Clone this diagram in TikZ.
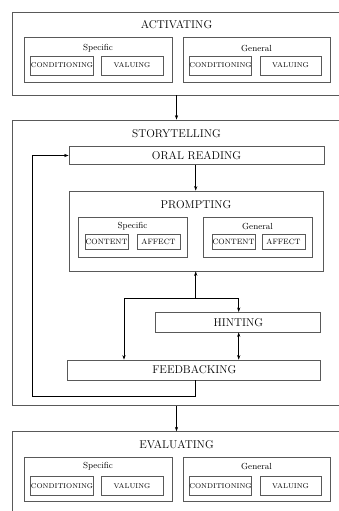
\documentclass[tikz,border=0pt]{standalone}
\usetikzlibrary{arrows.meta,fit}
\begin{document}
\begin{tikzpicture}[x=1pt,y=-1pt,>={Stealth[length=4.5pt,width=3.2pt]},
  outerbox/.style={draw=black!65,line width=0.8pt,inner sep=0pt},
  groupbox/.style={draw=black!65,line width=0.8pt,inner sep=0pt},
  itembox/.style={draw=black!65,line width=0.8pt,inner sep=0pt,font=\fontsize{7}{8}\selectfont},
  stepbox/.style={draw=black!65,line width=0.8pt,inner sep=0pt,font=\fontsize{11.3}{13}\selectfont},
  headtext/.style={font=\fontsize{11.3}{13}\selectfont},
  grouptext/.style={font=\fontsize{8.8}{10}\selectfont},
  link/.style={line width=0.6pt}]

  \useasboundingbox (0,0) rectangle (339,511);

  % activating
  \node[outerbox,fit={(12,12) (341,95)}] (act) {};
  \node[headtext] (acttitle) at (176.5,25) {ACTIVATING};
  \node[groupbox,fit={(24,37) (172,82)}] (actspec) {};
  \node[grouptext] (actspect) at (98,48) {Specific};
  \node[itembox,minimum width=62pt,minimum height=19pt] (actcon1) at (62,65.5) {CONDITIONING};
  \node[itembox,minimum width=62pt,minimum height=19pt] (actval1) at (132,65.5) {VALUING};
  \node[groupbox,fit={(183,37) (330,82)}] (actgen) {};
  \node[grouptext] (actgent) at (256.5,48) {General};
  \node[itembox,minimum width=61pt,minimum height=19pt] (actcon2) at (220.5,65.5) {CONDITIONING};
  \node[itembox,minimum width=61pt,minimum height=19pt] (actval2) at (290.5,65.5) {VALUING};

  % storytelling
  \node[outerbox,fit={(12,120) (341,405.7)}] (story) {};
  \node[headtext] (storytitle) at (176.5,134) {STORYTELLING};
  \node[stepbox,minimum width=255pt,minimum height=17.6pt] (oral) at (196.5,155.5) {ORAL READING};
  \node[groupbox,fit={(69,191) (323,271)}] (prompt) {};
  \node[headtext] (prompttitle) at (196,205) {PROMPTING};
  \node[groupbox,fit={(78,217.7) (187,257.7)}] (pspec) {};
  \node[grouptext] (pspect) at (132.5,226.7) {Specific};
  \node[itembox,font=\fontsize{7.7}{9}\selectfont,minimum width=43pt,minimum height=15pt] (pcon1) at (106.5,241.8) {CONTENT};
  \node[itembox,font=\fontsize{7.7}{9}\selectfont,minimum width=43pt,minimum height=15pt] (paff1) at (158.5,241.8) {AFFECT};
  \node[groupbox,fit={(203,217.7) (312,257.7)}] (pgen) {};
  \node[grouptext] (pgent) at (257.5,226.7) {General};
  \node[itembox,font=\fontsize{7.7}{9}\selectfont,minimum width=43pt,minimum height=15pt] (pcon2) at (233.5,241.8) {CONTENT};
  \node[itembox,font=\fontsize{7.7}{9}\selectfont,minimum width=43pt,minimum height=15pt] (paff2) at (283.5,241.8) {AFFECT};
  \node[stepbox,minimum width=165pt,minimum height=19.7pt] (hint) at (238.3,322.2) {HINTING};
  \node[stepbox,minimum width=253pt,minimum height=20pt] (feed) at (194.3,370) {FEEDBACKING};

  % evaluating
  \node[outerbox,fit={(12,431.7) (341,540)}] (eval) {};
  \node[headtext] (evaltitle) at (176.5,444.3) {EVALUATING};
  \node[groupbox,fit={(24,457.7) (172,501.7)}] (evspec) {};
  \node[grouptext] (evspect) at (98,466.7) {Specific};
  \node[itembox,minimum width=62pt,minimum height=18.3pt] (evcon1) at (62,485.8) {CONDITIONING};
  \node[itembox,minimum width=62pt,minimum height=18.3pt] (evval1) at (132,485.8) {VALUING};
  \node[groupbox,fit={(183,457.7) (330,501.7)}] (evgen) {};
  \node[grouptext] (evgent) at (256.5,466.7) {General};
  \node[itembox,minimum width=61pt,minimum height=18.3pt] (evcon2) at (220.5,485.8) {CONDITIONING};
  \node[itembox,minimum width=61pt,minimum height=18.3pt] (evval2) at (290.5,485.8) {VALUING};

  % connectors
  \coordinate (split) at (195.7,298.3);
  \coordinate (fx) at (124,298.3);
  \coordinate (hx) at (238.7,298.3);
  \coordinate (loop) at (32,396.7);
  \draw[link,->] (act.south) -- (story.north);
  \draw[link,->] (story.south) -- (eval.north);
  \draw[link,->] (oral.south -| split) -- (split |- prompt.north);
  \draw[link,->] (split) -- (split |- prompt.south);
  \draw[link,->] (split) -- (fx) -- (fx |- feed.north);
  \draw[link,->] (split) -- (hx) -- (hx |- hint.north);
  \draw[link,<->] (hx |- hint.south) -- (hx |- feed.north);
  \draw[link,->] (split |- feed.south) |- (loop) |- (oral.west);
\end{tikzpicture}
\end{document}
